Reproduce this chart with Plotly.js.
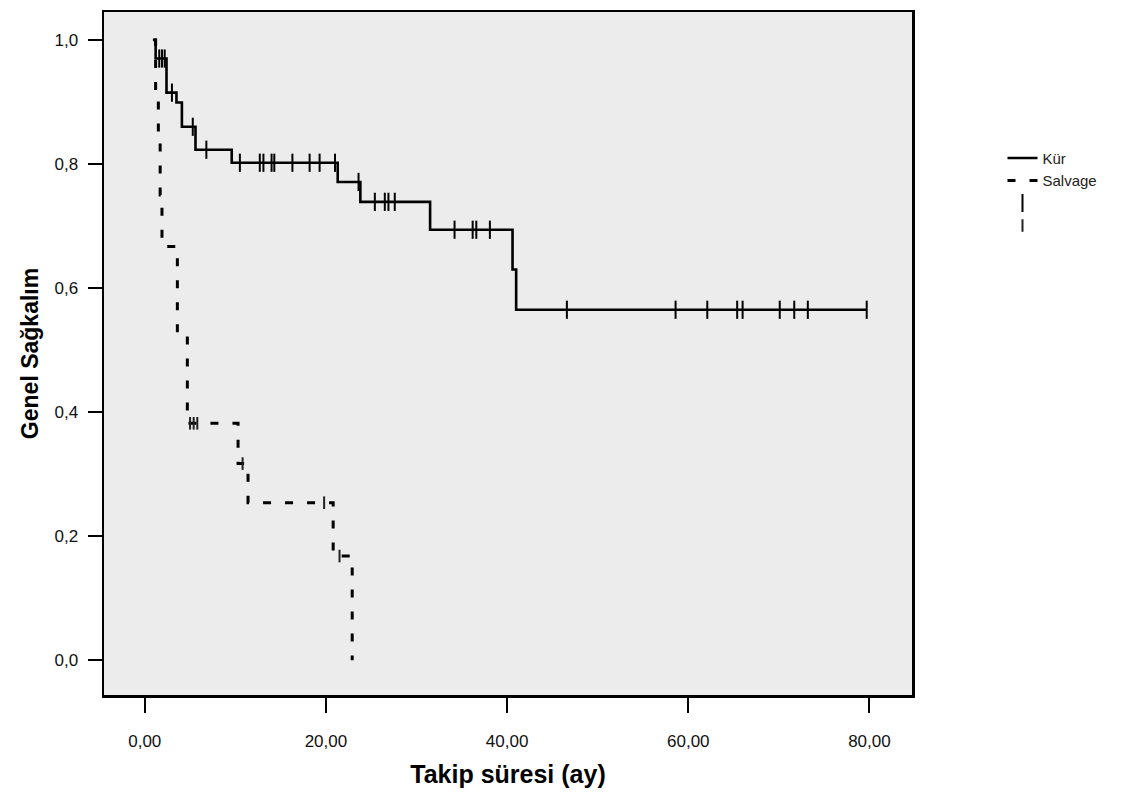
<!DOCTYPE html>
<html>
<head>
<meta charset="utf-8">
<script src="https://cdn.plot.ly/plotly-3.0.1.min.js"></script>
<style>html,body{margin:0;padding:0;background:#fff;}#chart{width:1140px;height:803px;}</style>
</head>
<body>
<div id="chart"></div>
<script>
// Kür group: step times and survival
const kurTime = [0.9, 1.2, 2.4, 3.5, 4.1, 5.6, 9.6, 21.3, 23.8, 31.5, 40.6, 41.0, 79.7];
const kurSurv = [1.0, 0.97, 0.915, 0.899, 0.860, 0.823, 0.802, 0.771, 0.739, 0.694, 0.630, 0.565, 0.565];
// Kür censored observations
const kurCensTime = [1.6, 1.9, 2.2, 3.0, 5.3, 6.8, 10.5, 12.7, 13.1, 14.0, 14.3, 16.3, 18.2, 19.3, 21.0, 23.6, 25.4, 26.5, 26.9, 27.6, 34.2, 36.2, 36.6, 38.1, 46.6, 58.6, 62.1, 65.4, 66.0, 70.1, 71.7, 73.2, 79.7];
const kurCensSurv = [0.97, 0.97, 0.97, 0.915, 0.860, 0.823, 0.802, 0.802, 0.802, 0.802, 0.802, 0.802, 0.802, 0.802, 0.802, 0.771, 0.739, 0.739, 0.739, 0.739, 0.694, 0.694, 0.694, 0.694, 0.565, 0.565, 0.565, 0.565, 0.565, 0.565, 0.565, 0.565, 0.565];
// Salvage group
const salTime = [1.0, 1.2, 1.5, 1.7, 1.9, 3.6, 4.7, 10.3, 11.4, 20.8, 22.9];
const salSurv = [1.0, 0.917, 0.833, 0.75, 0.667, 0.524, 0.382, 0.317, 0.254, 0.168, 0.0];
const salCensTime = [5.0, 5.4, 5.8, 10.8, 19.8, 21.5];
const salCensSurv = [0.382, 0.382, 0.382, 0.317, 0.254, 0.168];

const xTicks = [0, 20, 40, 60, 80];
const yTicks = [0, 0.2, 0.4, 0.6, 0.8, 1.0];

const traces = [
  {x: kurTime, y: kurSurv, mode: 'lines', line: {shape: 'hv', color: '#000', width: 2.6}, name: 'Kür'},
  {x: salTime, y: salSurv, mode: 'lines', line: {shape: 'hv', color: '#000', width: 3, dash: '8px,14px'}, name: 'Salvage'},
  {x: kurCensTime, y: kurCensSurv, mode: 'markers', marker: {symbol: 'line-ns', size: 13, line: {color: '#000', width: 2}}, name: ' '},
  {x: salCensTime, y: salCensSurv, mode: 'markers', marker: {symbol: 'line-ns', size: 9, line: {color: '#222', width: 2}}, name: '  '}
];

const layout = {
  width: 1140, height: 803,
  margin: {l: 104, r: 228, t: 12, b: 108},
  paper_bgcolor: '#ffffff',
  plot_bgcolor: '#ececec',
  separators: ',.',
  showlegend: true,
  legend: {x: 1.112, y: 0.81, xanchor: 'left', yanchor: 'top', font: {family: 'Liberation Sans, Arial, sans-serif', size: 15, color: '#222'}, bgcolor: 'rgba(0,0,0,0)', tracegroupgap: 2},
  xaxis: {
    range: [-4.5, 84.7], tickvals: xTicks, tickformat: '.2f',
    showgrid: false, zeroline: false,
    showline: true, mirror: true, linecolor: '#000', linewidth: 2.5,
    ticks: 'outside', ticklen: 15, tickwidth: 2, tickcolor: '#000',
    ticklabelstandoff: 14,
    tickfont: {family: 'Liberation Sans, Arial, sans-serif', size: 17, color: '#111'},
    title: {text: 'Takip süresi (ay)', font: {family: 'Liberation Sans Narrow, Liberation Sans, Arial, sans-serif', size: 25, color: '#000', weight: 'bold'}, standoff: 16}
  },
  yaxis: {
    range: [-0.056, 1.045], tickvals: yTicks, tickformat: '.1f',
    showgrid: false, zeroline: false,
    showline: true, mirror: true, linecolor: '#000', linewidth: 2.5,
    ticks: 'outside', ticklen: 14, tickwidth: 2, tickcolor: '#000',
    ticklabelstandoff: 6,
    tickfont: {family: 'Liberation Sans, Arial, sans-serif', size: 17, color: '#111'},
    title: {text: 'Genel Sağkalım', font: {family: 'Liberation Sans, Arial, sans-serif', size: 23, color: '#000', weight: 'bold'}, standoff: 10}
  }
};

Plotly.newPlot('chart', traces, layout, {displayModeBar: false, staticPlot: true});
</script>
</body>
</html>
